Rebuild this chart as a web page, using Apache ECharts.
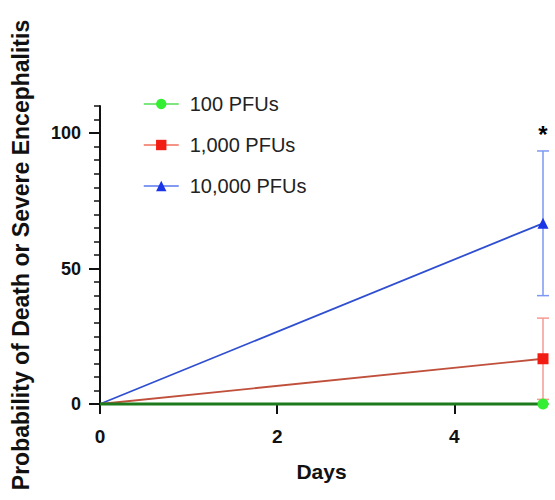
<!DOCTYPE html>
<html>
<head>
<meta charset="utf-8">
<script src="https://cdn.jsdelivr.net/npm/echarts@6/dist/echarts.min.js"></script>
<style>
  html, body { margin: 0; padding: 0; background: #fff; }
  #chart { width: 555px; height: 500px; }
</style>
</head>
<body>
<div id="chart"></div>
<script>
// data
const seriesNames = ['100 PFUs', '1,000 PFUs', '10,000 PFUs'];
const days = [0, 5];
const pfu100 = [0, 0];
const pfu1000 = [0, 16.7];
const pfu10000 = [0, 66.7];
// error bars at day 5 (low, high) and significance marks
const errLow = [0, 1.7, 40];
const errHigh = [0, 31.7, 93.4];
const sigMarks = ['', '', '*'];
const xTicks = [0, 2, 4];
const yTicks = [0, 50, 100];

const lineColors = ['#1c7a1c', '#c0503c', '#2f4fd0'];
const legendLineColors = ['#55dd55', '#f0705f', '#5a78ee'];
const markColors = ['#33ee33', '#f21d12', '#1a35e6'];
const barColors = ['#66dd66', '#f59a92', '#7d98f2'];
const symbols = ['circle', 'rect', 'triangle'];
const values = [pfu100, pfu1000, pfu10000];

const FONT = 'Liberation Sans, Arial, sans-serif';

const chart = echarts.init(document.getElementById('chart'), null, { renderer: 'svg' });

const errData = errLow.map((lo, i) => [days[1], lo, errHigh[i], sigMarks[i], i]);

const errSeries = {
  type: 'custom',
  name: 'err',
  z: 1,
  silent: true,
  renderItem: (params, api) => {
    const x = api.value(0);
    const idx = api.value(4);
    const top = api.coord([x, api.value(2)]);
    const bot = api.coord([x, api.value(1)]);
    const w = 6;
    const style = { stroke: barColors[idx], lineWidth: 1.5, fill: null };
    const children = [
      { type: 'line', shape: { x1: top[0], y1: top[1], x2: bot[0], y2: bot[1] }, style },
      { type: 'line', shape: { x1: top[0] - w, y1: top[1], x2: top[0] + w, y2: top[1] }, style },
      { type: 'line', shape: { x1: bot[0] - w, y1: bot[1], x2: bot[0] + w, y2: bot[1] }, style }
    ];
    const mark = api.value(3);
    if (mark) {
      children.push({
        type: 'text',
        style: {
          text: mark, x: top[0], y: top[1] - 4,
          align: 'center', verticalAlign: 'bottom',
          font: 'bold 24px ' + FONT, fill: '#000'
        }
      });
    }
    return { type: 'group', children };
  },
  encode: { x: 0, y: [1, 2] },
  data: errData
};

// draw green last so it sits on top
const order = [2, 1, 0];
const lineSeries = order.map((i) => ({
  name: seriesNames[i],
  type: 'line',
  symbol: symbols[i],
  symbolSize: 11,
  z: 3 + (2 - i),
  clip: false,
  itemStyle: { color: markColors[i] },
  lineStyle: { color: lineColors[i], width: i === 0 ? 3 : 1.8 },
  data: days.map((d, k) => k === 0 ? { value: [d, values[i][k]], symbol: 'none' } : [d, values[i][k]])
}));

const option = {
  animation: false,
  grid: { left: 100, right: 12, top: 106, bottom: 96 },
  legend: {
    orient: 'vertical',
    left: 138,
    top: 89,
    itemWidth: 35,
    itemHeight: 13,
    itemGap: 21,
    data: seriesNames.map((n, i) => ({
      name: n,
      lineStyle: { color: legendLineColors[i], width: 1.5 }
    })),
    textStyle: { fontFamily: FONT, fontSize: 20, color: '#222', padding: [0, 0, 0, 6] }
  },
  xAxis: {
    type: 'value',
    min: 0,
    max: 5,
    name: 'Days',
    nameLocation: 'middle',
    nameGap: 57,
    nameTextStyle: { fontFamily: FONT, fontSize: 21, fontWeight: 'bold', color: '#111', verticalAlign: 'top' },
    splitLine: { show: false },
    axisLine: { lineStyle: { color: '#111', width: 2 } },
    axisTick: { customValues: xTicks, length: 10, lineStyle: { color: '#111', width: 2 } },
    axisLabel: { customValues: xTicks, margin: 23, fontFamily: FONT, fontSize: 19, fontWeight: 'bold', color: '#111' }
  },
  yAxis: [
    {
      type: 'value',
      min: 0,
      max: 110,
      interval: 5,
      name: 'Probability of Death or Severe Encephalitis',
      nameLocation: 'middle',
      nameGap: 68,
      nameTextStyle: { fontFamily: FONT, fontSize: 23, fontWeight: 'bold', color: '#111' },
      splitLine: { show: false },
      axisLine: { show: true, lineStyle: { color: '#111', width: 2 } },
      axisTick: { length: 6, lineStyle: { color: '#111', width: 1.5 } },
      axisLabel: { show: false }
    },
    {
      type: 'value',
      min: 0,
      max: 110,
      position: 'left',
      splitLine: { show: false },
      axisLine: { show: false },
      axisTick: { customValues: yTicks, length: 11, lineStyle: { color: '#111', width: 2 } },
      axisLabel: { customValues: yTicks, margin: 19, fontFamily: FONT, fontSize: 18, fontWeight: 'bold', color: '#111' }
    }
  ],
  series: [errSeries].concat(lineSeries)
};

chart.setOption(option);
</script>
</body>
</html>
